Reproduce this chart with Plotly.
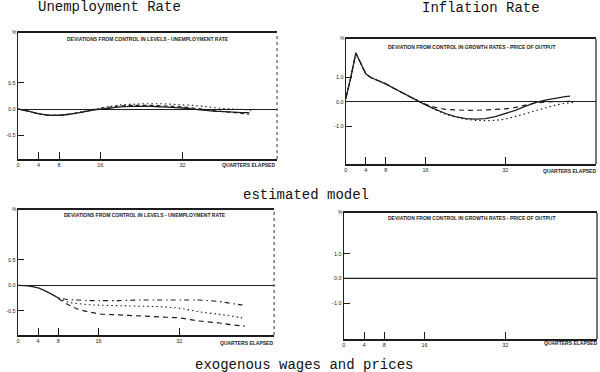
import plotly.graph_objects as go

# ---------------- data ----------------
# Quarters elapsed
q_tl = [0, 2, 4, 6, 8, 10, 12, 14, 16, 18, 20, 22, 24, 26, 28, 30, 32, 34, 36, 38, 40, 42, 44, 45]
unemp_est_solid = [0, -0.04, -0.09, -0.12, -0.12, -0.10, -0.07, -0.03, 0.0, 0.02, 0.04, 0.05, 0.05,
                   0.05, 0.04, 0.03, 0.02, 0.0, -0.02, -0.04, -0.05, -0.06, -0.07, -0.07]
unemp_est_dash = [0, -0.04, -0.09, -0.12, -0.12, -0.10, -0.07, -0.03, 0.01, 0.04, 0.06, 0.07, 0.07,
                  0.07, 0.06, 0.05, 0.04, 0.02, 0.0, -0.03, -0.05, -0.07, -0.09, -0.10]
q_tl_dot = [0, 2, 4, 6, 8, 10, 12, 14, 16, 18, 20, 22, 24, 26, 28, 30, 32, 34, 36, 38, 40, 42, 44, 46]
unemp_est_dot = [0, -0.04, -0.09, -0.12, -0.12, -0.10, -0.06, -0.02, 0.02, 0.05, 0.08, 0.09, 0.10,
                 0.10, 0.10, 0.09, 0.08, 0.07, 0.05, 0.03, 0.01, 0.0, -0.01, -0.03]

q_tr = [0, 1, 2, 3, 4, 5, 6, 7, 8, 10, 12, 14, 15, 16, 18, 20, 22, 24, 26, 28, 30, 32, 34, 36, 38, 40, 42, 44, 45]
infl_est_solid = [0.15, 1.0, 2.0, 1.6, 1.15, 1.0, 0.92, 0.84, 0.74, 0.52, 0.3, 0.08, -0.02, -0.12, -0.3,
                  -0.47, -0.6, -0.68, -0.7, -0.68, -0.6, -0.48, -0.34, -0.18, -0.03, 0.08, 0.16, 0.22, 0.24]
infl_est_dash = [0.15, 1.0, 2.0, 1.6, 1.15, 1.0, 0.92, 0.84, 0.74, 0.52, 0.3, 0.08, -0.02, -0.1, -0.22,
                 -0.3, -0.33, -0.34, -0.34, -0.33, -0.31, -0.28, -0.22, -0.12, -0.04, 0.0, 0.02, 0.03, 0.03]
q_tr_dot = [0, 1, 2, 3, 4, 5, 6, 7, 8, 10, 12, 14, 15, 16, 18, 20, 22, 24, 26, 28, 30, 32, 34, 36, 38, 40, 42, 44, 46]
infl_est_dot = [0.15, 1.0, 2.0, 1.6, 1.15, 1.0, 0.92, 0.84, 0.74, 0.52, 0.3, 0.08, 0.0, -0.1, -0.32,
                -0.5, -0.62, -0.7, -0.75, -0.76, -0.75, -0.7, -0.6, -0.48, -0.36, -0.24, -0.13, -0.05, -0.01]

q_bl_common = [0, 2, 4, 6, 8]
unemp_exo_common = [0, -0.01, -0.05, -0.14, -0.25]
q_bl = [8, 10, 12, 14, 16, 20, 24, 28, 32, 36, 40, 42, 44, 45]
unemp_exo_upper = [-0.25, -0.28, -0.29, -0.30, -0.30, -0.30, -0.29, -0.29, -0.29, -0.29, -0.32, -0.35, -0.38, -0.39]
unemp_exo_mid = [-0.25, -0.33, -0.36, -0.38, -0.39, -0.40, -0.41, -0.42, -0.45, -0.52, -0.57, -0.60, -0.63, -0.65]
unemp_exo_low = [-0.26, -0.38, -0.47, -0.52, -0.56, -0.58, -0.60, -0.62, -0.64, -0.70, -0.74, -0.77, -0.79, -0.80]

# exogenous wages and prices: inflation deviation stays at zero
q_br = [0, 50]
infl_exo = [0.0, 0.0]

x_tickvals = [0, 4, 8, 16, 32]
x_ticktext = ["0", "4", "8", "16", "32"]
unemp_tickvals = [0.5, 0.0, -0.5]
unemp_ticktext = ["0.5", "0.0", "-0.5"]
infl_tickvals = [1.0, 0.0, -1.0]
infl_ticktext = ["1.0", "0.0", "-1.0"]

titles = ["Unemployment Rate", "Inflation Rate", "estimated model", "exogenous wages and prices"]
inner_titles = ["DEVIATIONS FROM CONTROL IN LEVELS - UNEMPLOYMENT RATE",
                "DEVIATION FROM CONTROL IN GROWTH RATES - PRICE OF OUTPUT"]
x_caption = "QUARTERS ELAPSED"

# ---------------- figure ----------------
W, H = 600, 372
INK = "#1e1e1e"
SMALL = dict(family="Liberation Sans", size=5.5, color=INK)


def px(x):
    return x / W


def py(y):
    return 1 - y / H


fig = go.Figure()

LW = 1.3
# top-left
fig.add_trace(go.Scatter(x=q_tl, y=unemp_est_solid, mode="lines", line=dict(color=INK, width=LW, shape="spline"),
                         xaxis="x", yaxis="y"))
fig.add_trace(go.Scatter(x=q_tl, y=unemp_est_dash, mode="lines",
                         line=dict(color=INK, width=1.1, dash="4px,3px", shape="spline"), xaxis="x", yaxis="y"))
fig.add_trace(go.Scatter(x=q_tl_dot, y=unemp_est_dot, mode="lines",
                         line=dict(color=INK, width=1.1, dash="1.5px,3px", shape="spline"), xaxis="x", yaxis="y"))
# top-right
fig.add_trace(go.Scatter(x=q_tr, y=infl_est_solid, mode="lines", line=dict(color=INK, width=LW),
                         xaxis="x2", yaxis="y2"))
fig.add_trace(go.Scatter(x=q_tr, y=infl_est_dash, mode="lines", line=dict(color=INK, width=1.2, dash="5px,4px"),
                         xaxis="x2", yaxis="y2"))
fig.add_trace(go.Scatter(x=q_tr_dot, y=infl_est_dot, mode="lines",
                         line=dict(color=INK, width=1.2, dash="1.5px,3px"), xaxis="x2", yaxis="y2"))
# bottom-left
fig.add_trace(go.Scatter(x=q_bl_common, y=unemp_exo_common, mode="lines",
                         line=dict(color=INK, width=LW, shape="spline"), xaxis="x3", yaxis="y3"))
fig.add_trace(go.Scatter(x=q_bl, y=unemp_exo_upper, mode="lines",
                         line=dict(color=INK, width=1.1, dash="1.5px,3px,5px,4px", shape="spline"),
                         xaxis="x3", yaxis="y3"))
fig.add_trace(go.Scatter(x=q_bl, y=unemp_exo_mid, mode="lines",
                         line=dict(color=INK, width=1.1, dash="1.5px,3px", shape="spline"), xaxis="x3", yaxis="y3"))
fig.add_trace(go.Scatter(x=q_bl, y=unemp_exo_low, mode="lines",
                         line=dict(color=INK, width=1.2, dash="5px,4px", shape="spline"), xaxis="x3", yaxis="y3"))
# bottom-right
fig.add_trace(go.Scatter(x=q_br, y=infl_exo, mode="lines", line=dict(color=INK, width=1.3),
                         xaxis="x4", yaxis="y4", cliponaxis=True))

panels = [
    ("xaxis", "yaxis", (16, 276), (33, 159), [0, 50.4], [-0.96, 1.46], unemp_tickvals, unemp_ticktext, True),
    ("xaxis2", "yaxis2", (345, 596), (39, 164), [0, 50.2], [-2.53, 2.57], infl_tickvals, infl_ticktext, False),
    ("xaxis3", "yaxis3", (16, 273), (210, 335), [0, 50.8], [-0.975, 1.476], unemp_tickvals, unemp_ticktext, True),
    ("xaxis4", "yaxis4", (343, 597), (213, 339), [0, 50.2], [-2.45, 2.65], infl_tickvals, infl_ticktext, False),
]

layout = dict(width=W, height=H, autosize=False, margin=dict(l=0, r=0, t=0, b=0),
              paper_bgcolor="white", plot_bgcolor="white", showlegend=False)
shapes = []
annotations = []
for i, (xa, ya, xd, yd, xr, yr, ytv, ytt, dotted) in enumerate(panels):
    n = "" if i == 0 else str(i + 1)
    layout[xa] = dict(domain=[px(xd[0]), px(xd[1])], range=xr, anchor="y" + n,
                      showline=True, linecolor=INK, linewidth=1.6, mirror=True,
                      showgrid=False, zeroline=False, tickmode="array", tickvals=x_tickvals,
                      ticktext=x_ticktext, ticks="inside", ticklen=7, tickwidth=1.2, tickcolor=INK,
                      tickfont=SMALL)
    layout[ya] = dict(domain=[py(yd[1]), py(yd[0])], range=yr, anchor="x" + n,
                      showline=True, linecolor=INK, linewidth=1.3, mirror=False,
                      showgrid=False, zeroline=True, zerolinecolor=INK, zerolinewidth=1.3,
                      tickmode="array", tickvals=ytv, ticktext=ytt, ticks="inside", ticklen=6,
                      tickwidth=1.2, tickcolor=INK, tickfont=SMALL)
    shapes.append(dict(type="line", xref="x" + n + " domain", yref="y" + n + " domain",
                       x0=1, x1=1, y0=0, y1=1,
                       line=dict(color="#555" if dotted else INK, width=1.2,
                                 dash="3px,3px" if dotted else "solid")))
    annotations.append(dict(x=px(xd[0] - 3), y=py(yd[0] - 1), xref="paper", yref="paper",
                            text="%", showarrow=False, font=dict(family="Liberation Sans", size=5, color=INK),
                            xanchor="center", yanchor="middle"))

layout["shapes"] = shapes

for cx, cy, t in [(146.5, 39, inner_titles[0]), (472, 47, inner_titles[1]),
                  (143.5, 215, inner_titles[0]), (471.5, 218, inner_titles[1])]:
    annotations.append(dict(x=px(cx), y=py(cy), xref="paper", yref="paper", text="<b>" + t + "</b>",
                            showarrow=False, font=dict(family="Liberation Sans", size=5, color=INK),
                            xanchor="center", yanchor="middle"))

for cx, cy in [(247.5, 165), (569.5, 171), (245.5, 343), (570, 343)]:
    annotations.append(dict(x=px(cx), y=py(cy), xref="paper", yref="paper", text="<b>" + x_caption + "</b>",
                            showarrow=False, font=dict(family="Liberation Sans", size=5, color=INK),
                            xanchor="center", yanchor="middle"))

TT = dict(family="Liberation Mono", size=14, color="#111")
for cx, cy, t in [(108, 7.5, titles[0]), (481, 8, titles[1]), (305, 194.5, titles[2]), (303, 364.5, titles[3])]:
    annotations.append(dict(x=px(cx), y=py(cy), xref="paper", yref="paper", text=t,
                            showarrow=False, font=TT, xanchor="center", yanchor="middle"))

layout["annotations"] = annotations
fig.update_layout(**layout)

fig.write_html("out.html", config={"displayModeBar": False},
               post_script="document.body.style.margin='0px';document.body.style.overflow='hidden';")
